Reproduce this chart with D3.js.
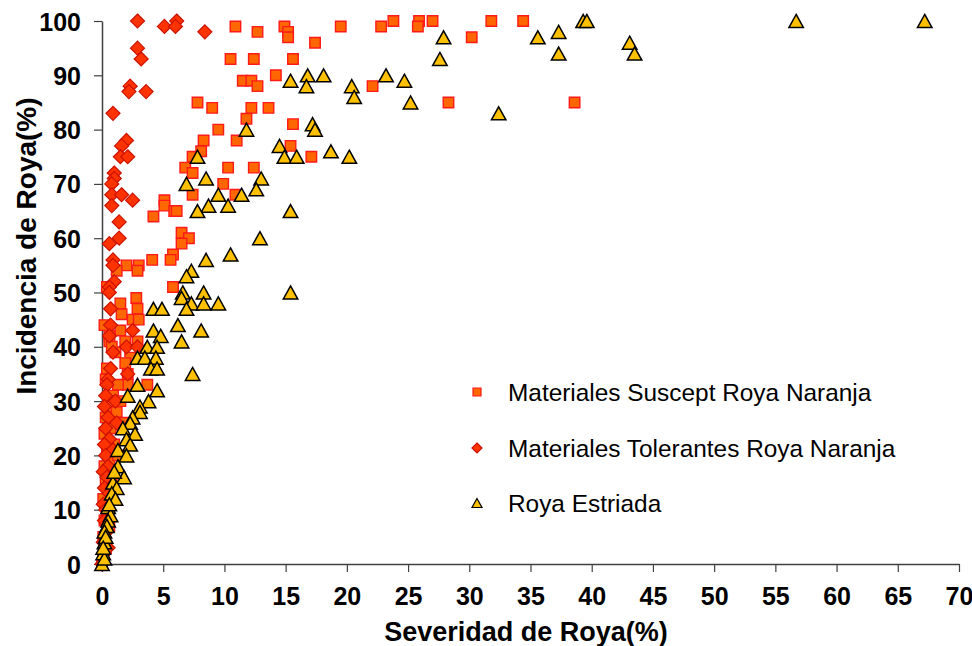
<!DOCTYPE html>
<html><head><meta charset="utf-8">
<script src="https://cdn.jsdelivr.net/npm/d3@7"></script>
<style>
body{margin:0;background:#fff;}
svg{display:block;font-family:"Liberation Sans",Arial,sans-serif;}
</style></head>
<body><svg id="chart" width="972" height="646"></svg>
<script>
// ---- data ----
const xTicks = [0,5,10,15,20,25,30,35,40,45,50,55,60,65,70];
const yTicks = [0,10,20,30,40,50,60,70,80,90,100];
const seriesNames = ["Materiales Suscept Roya Naranja","Materiales Tolerantes Roya Naranja","Roya Estriada"];
const xTitle = "Severidad de Roya(%)";
const yTitle = "Incidencia de Roya(%)";

const suscept = [
[23.8,100],[25.9,100],[27.0,100],[31.8,100],[34.4,100],
[10.9,99],[14.9,99],[19.5,99],[22.8,99],[25.8,99],
[12.7,98],[15.2,98],[15.2,97],[30.2,97],[17.4,96],
[10.5,93],[12.4,93],[15.6,93],
[14.2,90],[11.5,89],[12.2,89],[12.7,88],[22.1,88],
[7.8,85],[28.3,85],[38.6,85],
[9.0,84],[12.2,84],[13.6,84],
[11.8,82],[15.6,81],[9.5,80],
[11.0,78],[8.3,78],[15.4,77],[8.1,76],[7.4,75],[17.1,75],
[6.8,73],[10.3,73],[12.4,73],[7.4,72],
[9.9,70],[7.4,68],[10.9,68],
[5.1,67],[5.1,66],[5.9,65],[6.1,65],[4.2,64],
[6.5,61],[7.1,60],[6.5,59],
[5.8,57],[5.6,56],[4.1,56],[3.0,55],[2.0,55],[2.9,54],[1.2,54],
[5.8,51],[0.4,51],[2.8,49],[1.5,48],[2.9,47],[1.6,46],[2.5,45],[3.0,45],
[1.5,43],[0.6,42],[2.9,41],[1.9,41],[0.6,41],[2.3,38],[1.9,37],
[2.1,35],[3.7,33],[2.1,33],[1.3,33],[0.3,34],
[0.9,31],[1.5,30],[0.5,29],[1.2,28],[0.3,27],[1.8,26],[0.7,25],[0.2,24],[1.0,22],[0.4,21],
[0.6,19],[0.2,18],[1.3,20],[0.8,16],[0.3,15],[0.5,13],[0.1,12],[0.4,10],[0.2,8],[0.6,7],
[0.1,5],[0.3,3],[0.1,1],[0.0,0],[0.4,36],[1.1,39],[0.2,44],[0.8,40]
];

const tolerantes = [
[2.9,100],[5.1,99],[6.1,100],[6.0,99],[8.4,98],[2.9,95],[3.2,93],[2.3,88],[2.2,87],[3.6,87],
[0.9,83],[2.0,78],[1.6,77],[1.5,75],[2.1,75],[1.0,72],[1.0,71],[0.8,70],[0.8,68],[1.6,68],
[2.5,67],[0.8,66],[1.4,63],[1.4,60],[0.6,59],[0.9,56],[0.9,55],[1.0,52],[0.6,51],[0.6,50],
[0.7,47],[0.7,44],[0.6,42],[2.5,43],[2.0,40],[2.9,40],[0.9,39],[0.7,36],[2.1,35],[0.5,34],
[0.4,33],[0.3,31],[1.1,30],[0.2,29],[0.5,27],[1.2,26],[0.3,25],[0.6,23],[0.2,22],[0.9,21],
[0.3,20],[0.5,18],[0.1,17],[0.4,16],[0.2,14],[0.6,13],[0.1,11],[0.3,10],[0.2,8],[0.4,6],
[0.1,4],[0.2,2],[0.0,0],[0.5,3]
];

const estriada = [
[56.7,100],[67.2,100],[39.3,100],[39.6,100],[43.1,96],[43.5,94],[27.9,97],[27.6,93],[35.6,97],[37.3,98],[37.3,94],[32.4,83],
[15.4,89],[16.8,90],[18.1,90],[16.7,88],[20.4,88],[20.6,86],[23.2,90],[24.7,89],[25.2,85],[17.2,81],[17.4,80],
[14.5,77],[14.9,75],[15.9,75],[18.7,76],[20.2,75],[13.0,71],
[15.4,65],[12.9,60],[15.4,50],
[11.8,80],[7.8,75],[8.5,71],[6.9,70],[12.6,69],[9.5,68],[11.4,68],[8.7,66],[10.3,66],[7.8,65],
[10.5,57],[8.5,56],[7.3,54],[6.9,53],[6.6,50],[8.3,50],[6.5,49],[7.3,48],[8.3,48],[9.5,48],
[6.9,47],[4.2,47],[4.9,47],[6.2,44],[8.1,43],[4.2,43],[4.8,42],[6.5,41],[3.7,40],[4.5,40],
[2.9,38],[3.5,38],[4.4,38],[4.0,36],[4.5,36],[7.4,35],[2.9,33],[4.5,32],[2.1,31],[3.8,30],
[3.1,29],[3.1,28],[2.5,27],[2.3,26],[1.7,25],[2.7,24],[2.0,23],[2.3,22],[1.3,21],[2.0,20],
[1.3,18],[1.8,16],[0.9,15],[1.2,14],[0.8,13],[1.1,12],[0.5,10.5],[0.7,9],[0.5,8],[0.4,7],
[0.2,6],[0.2,4],[0.1,2],[0,0],[0.3,5],[0.6,11],[1.0,17],[0.2,1],[0.1,3]
];

// ---- chart ----
const svg = d3.select("#chart");
const x = d3.scaleLinear().domain([0,70]).range([102,959]);
const y = d3.scaleLinear().domain([0,100]).range([564,21]);

const shapes = {
  square: s => `M${-s/2},${-s/2}h${s}v${s}h${-s}Z`,
  diamond: s => `M0,${-s/2}L${s/2},0L0,${s/2}L${-s/2},0Z`,
  triangle: s => `M0,${-s*0.45}L${s/2},${s*0.45}L${-s/2},${s*0.45}Z`
};
const styles = [
  {shape:"square", size:10.5, fill:"#FF6600", stroke:"#FF1A1A", sw:1.4, lsize:8},
  {shape:"diamond", size:14, fill:"#FF3300", stroke:"#CC1100", sw:1.2, lsize:10},
  {shape:"triangle", size:14.5, fill:"#FFC000", stroke:"#000000", sw:1.5, lsize:10}
];
const allData = [suscept, tolerantes, estriada];

// axes
const xAxis = d3.axisBottom(x).tickValues(xTicks).tickSize(8).tickSizeOuter(0).tickFormat(d3.format("d"));
const yAxis = d3.axisLeft(y).tickValues(yTicks).tickSize(8).tickSizeOuter(0).tickFormat(d3.format("d"));

const gx = svg.append("g").attr("transform","translate(0,564)").call(xAxis);
const gy = svg.append("g").attr("transform","translate(102,0)").call(yAxis);
[gx,gy].forEach(g=>{
  g.select(".domain").attr("stroke","#404040").attr("stroke-width",1.5);
  g.selectAll(".tick line").attr("stroke","#404040").attr("stroke-width",1.2);
  g.selectAll(".tick text").attr("fill","#000").attr("font-size",25).attr("font-weight","bold")
   .attr("font-family",'"Liberation Sans",Arial,sans-serif');
});
gx.selectAll(".tick text").attr("y",23).attr("dy","0.71em");
gy.selectAll(".tick text").attr("x",-21).attr("dy","0.36em");

// points
allData.forEach((data,i)=>{
  const st = styles[i];
  svg.append("g").selectAll("path").data(data).join("path")
    .attr("transform",d=>`translate(${x(d[0])},${y(d[1])})`)
    .attr("d",shapes[st.shape](st.size))
    .attr("fill",st.fill).attr("stroke",st.stroke).attr("stroke-width",st.sw)
    .attr("stroke-linejoin","miter");
});

// axis titles
svg.append("text").attr("x",526).attr("y",641).attr("text-anchor","middle")
  .attr("font-size",27).attr("font-weight","bold").text(xTitle);
svg.append("text").attr("transform","translate(36,246) rotate(-90)").attr("text-anchor","middle")
  .attr("font-size",28).attr("font-weight","bold").text(yTitle);

// legend
const legY = [392,448,503];
seriesNames.forEach((n,i)=>{
  const st = styles[i];
  svg.append("path").attr("transform",`translate(477,${legY[i]})`)
    .attr("d",shapes[st.shape](st.lsize))
    .attr("fill",st.fill).attr("stroke",st.stroke).attr("stroke-width",1.2);
  svg.append("text").attr("x",508).attr("y",legY[i]).attr("dy","0.36em")
    .attr("font-size",24.4).attr("fill","#000").text(n);
});
</script></body></html>
